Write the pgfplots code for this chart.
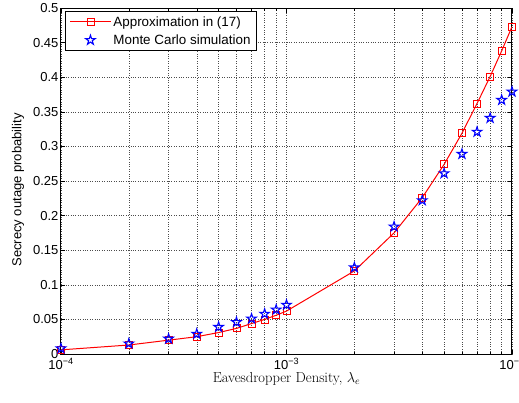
\documentclass[border=0pt]{standalone}
\usepackage{fontspec}
\setmainfont{Liberation Sans}
\newfontfamily\lmr{Latin Modern Roman}
\usepackage{pgfplots}
\pgfplotsset{compat=1.18}

\pgfdeclareplotmark{pentagram}{%
  \pgfpathmoveto{\pgfpointpolar{90}{\pgfplotmarksize}}%
  \pgfpathlineto{\pgfpointpolar{126}{0.382\pgfplotmarksize}}%
  \pgfpathlineto{\pgfpointpolar{162}{\pgfplotmarksize}}%
  \pgfpathlineto{\pgfpointpolar{198}{0.382\pgfplotmarksize}}%
  \pgfpathlineto{\pgfpointpolar{234}{\pgfplotmarksize}}%
  \pgfpathlineto{\pgfpointpolar{270}{0.382\pgfplotmarksize}}%
  \pgfpathlineto{\pgfpointpolar{306}{\pgfplotmarksize}}%
  \pgfpathlineto{\pgfpointpolar{342}{0.382\pgfplotmarksize}}%
  \pgfpathlineto{\pgfpointpolar{18}{\pgfplotmarksize}}%
  \pgfpathlineto{\pgfpointpolar{54}{0.382\pgfplotmarksize}}%
  \pgfpathclose
  \pgfusepathqstroke
}

\begin{document}
\begin{tikzpicture}
\begin{semilogxaxis}[
    scale only axis,
    width=451pt, height=346pt,
    xmin=1e-4, xmax=1e-2,
    ymin=0, ymax=0.5,
    xtick={1e-4,1e-3,1e-2},
    xticklabels={10\textsuperscript{−4},10\textsuperscript{−3},10\textsuperscript{−2}},
    ytick={0,0.05,0.1,0.15,0.2,0.25,0.3,0.35,0.4,0.45,0.5},
    yticklabels={0,0.05,0.1,0.15,0.2,0.25,0.3,0.35,0.4,0.45,0.5},
    tick label style={font=\fontsize{13}{15}\selectfont},
    xticklabel style={yshift=-1pt},
    yticklabel style={xshift=1pt},
    xlabel={\lmr\fontsize{14.5}{16}\selectfont Eavesdropper Density, $\lambda_e$},
    ylabel={\fontsize{13}{15}\selectfont Secrecy outage probability},
    xlabel style={at={(axis description cs:0.5,-0.0723)}, anchor=center},
    ylabel style={at={(axis description cs:-0.0953,0.474)}, anchor=center},
    tick align=inside,
    major tick length=4.5pt, minor tick length=2.5pt,
    axis line style={line width=1pt},
    every tick/.style={black, line width=0.5pt},
    xmajorgrids, xminorgrids, ymajorgrids,
    major grid style={dotted, black!70, line width=0.5pt},
    minor grid style={dotted, black!70, line width=0.5pt},
    legend style={at={(rel axis cs:0.009,0.99)}, anchor=north west,
        draw=black, line width=0.8pt, font=\fontsize{13.4}{15.5}\selectfont,
        inner xsep=4pt, inner ysep=2.5pt, row sep=3pt},
    legend cell align=left,
    legend image code/.code={
        \draw[mark repeat=2, mark phase=2, #1] plot coordinates {(2pt,0pt) (22.5pt,0pt) (43pt,0pt)};
    },
]
\addplot[red, line width=1pt, mark=square, mark size=3.5pt, mark options={line width=0.8pt}]
coordinates {
(1e-4,0.006)(2e-4,0.013)(3e-4,0.020)(4e-4,0.025)(5e-4,0.031)(6e-4,0.037)
(7e-4,0.044)(8e-4,0.050)(9e-4,0.056)(1e-3,0.062)
(2e-3,0.120)(3e-3,0.175)(4e-3,0.226)(5e-3,0.274)(6e-3,0.319)
(7e-3,0.362)(8e-3,0.401)(9e-3,0.438)(1e-2,0.473)
};
\addlegendentry{Approximation in (17)}
\addplot[blue, only marks, mark=pentagram, mark size=5pt, mark options={line width=1.1pt}]
coordinates {
(1e-4,0.008)(2e-4,0.015)(3e-4,0.022)(4e-4,0.029)(5e-4,0.039)(6e-4,0.046)
(7e-4,0.051)(8e-4,0.058)(9e-4,0.064)(1e-3,0.071)
(2e-3,0.125)(3e-3,0.184)(4e-3,0.222)(5e-3,0.261)(6e-3,0.289)
(7e-3,0.321)(8e-3,0.341)(9e-3,0.367)(1e-2,0.379)
};
\addlegendentry{Monte Carlo simulation}
\end{semilogxaxis}
\pgfresetboundingbox
\useasboundingbox (current axis.south west) ++(-61pt,-48pt) rectangle ++(519pt,402pt);
\end{tikzpicture}
\end{document}
